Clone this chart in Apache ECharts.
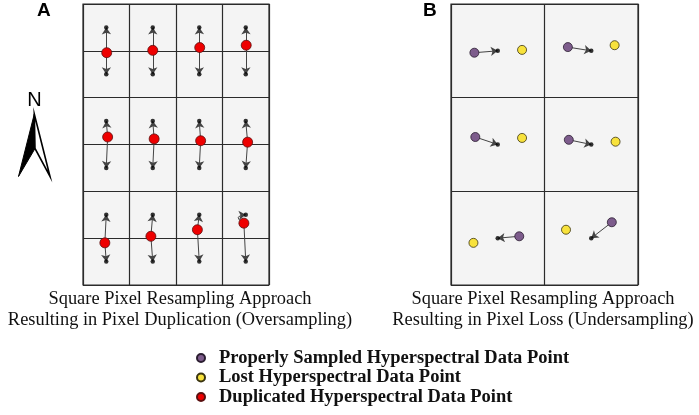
<!DOCTYPE html>
<html>
<head>
<meta charset="utf-8">
<script src="https://cdn.jsdelivr.net/npm/echarts@6/dist/echarts.min.js"></script>
<style>
  html, body { margin: 0; padding: 0; background: #fff; }
  #chart { width: 699px; height: 415px; }
</style>
</head>
<body>
<div id="chart"></div>
<script>
// panel A: 4 x 6 pixel grid (cell units), panel B: 2 x 3 grid
const topDotsA = [[0.5,5.5],[1.5,5.5],[2.5,5.5],[3.5,5.5],[0.5,3.5],[1.5,3.5],[2.5,3.5],[3.5,3.5],[0.5,1.5],[1.5,1.5],[2.5,1.5],[3.5,1.5]]
const bottomDotsA = [[0.5,4.5],[1.5,4.5],[2.5,4.5],[3.5,4.5],[0.5,2.5],[1.5,2.5],[2.5,2.5],[3.5,2.5],[0.5,0.5],[1.5,0.5],[2.5,0.5],[3.5,0.5]]
const duplicatedA = [[0.51,4.96],[1.5,5.01],[2.51,5.07],[3.51,5.12],[0.53,3.16],[1.53,3.12],[2.53,3.08],[3.54,3.05],[0.47,0.9],[1.46,1.04],[2.46,1.18],[3.46,1.32]]

const dotsB = [[0.5,2.5],[1.5,2.5],[0.5,1.5],[1.5,1.5],[0.5,0.5],[1.5,0.5]]
const sampledB = [[0.25,2.48],[1.25,2.54],[0.26,1.58],[1.26,1.55],[0.73,0.52],[1.72,0.67]]
const lostB = [[0.76,2.51],[1.75,2.56],[0.76,1.57],[1.76,1.53],[0.24,0.45],[1.23,0.59]]

const names = ['Properly Sampled Hyperspectral Data Point', 'Lost Hyperspectral Data Point', 'Duplicated Hyperspectral Data Point']
const legendTops = [348.5, 368, 387.5]

const arrowsA = []
duplicatedA.forEach(function (p, i) {
  // last cell: the upward arrow loops round to its dot
  const curl = (i === 11) ? { lineStyle: { curveness: 1.6 } } : {}
  arrowsA.push(Object.assign({ coords: [p, topDotsA[i]] }, curl))
  arrowsA.push({ coords: [p, bottomDotsA[i]] })
})
const arrowsB = sampledB.map(function (p, i) {
  return { coords: [p, dotsB[i]] }
})

const axisCommon = {
  type: 'value',
  interval: 1,
  axisLine: { show: false },
  axisTick: { show: false },
  axisLabel: { show: false },
  splitLine: { show: true, lineStyle: { color: '#2b2b2b', width: 1.2 } }
}

const legends = names.map(function (n, i) {
  return {
    orient: 'vertical',
    left: 196,
    top: legendTops[i],
    padding: 0,
    itemWidth: 26,
    itemHeight: 8,
    icon: 'circle',
    data: [n],
    selectedMode: false,
    textStyle: { fontFamily: 'Liberation Serif', fontWeight: 'bold', fontSize: 18.5, color: '#111' }
  }
})

const chart = echarts.init(document.getElementById('chart'))
chart.setOption({
  backgroundColor: '#fff',
  animation: false,
  grid: [
    { left: 83, top: 4, width: 186, height: 281, show: true, backgroundColor: '#f4f4f4', borderColor: '#2b2b2b', borderWidth: 1.2 },
    { left: 451, top: 4, width: 187, height: 281, show: true, backgroundColor: '#f4f4f4', borderColor: '#2b2b2b', borderWidth: 1.2 }
  ],
  xAxis: [
    Object.assign({ gridIndex: 0, min: 0, max: 4 }, axisCommon),
    Object.assign({ gridIndex: 1, min: 0, max: 2 }, axisCommon)
  ],
  yAxis: [
    Object.assign({ gridIndex: 0, min: 0, max: 6 }, axisCommon),
    Object.assign({ gridIndex: 1, min: 0, max: 3 }, axisCommon)
  ],
  legend: legends,
  series: [
    {
      type: 'lines', coordinateSystem: 'cartesian2d', xAxisIndex: 0, yAxisIndex: 0,
      symbol: ['none', 'arrow'], symbolSize: 7, silent: true,
      lineStyle: { color: '#444', width: 1, opacity: 1 },
      data: arrowsA, z: 2
    },
    {
      type: 'lines', coordinateSystem: 'cartesian2d', xAxisIndex: 1, yAxisIndex: 1,
      symbol: ['none', 'arrow'], symbolSize: 7, silent: true,
      lineStyle: { color: '#444', width: 1, opacity: 1 },
      data: arrowsB, z: 2
    },
    {
      type: 'scatter', xAxisIndex: 0, yAxisIndex: 0, symbolSize: 4.5,
      itemStyle: { color: '#000' }, data: topDotsA.concat(bottomDotsA), z: 3
    },
    {
      name: names[2], type: 'scatter', xAxisIndex: 0, yAxisIndex: 0, symbolSize: 10,
      itemStyle: { color: '#ee0000', borderColor: '#5a1010', borderWidth: 0.8, opacity: 1 },
      data: duplicatedA, z: 4
    },
    {
      type: 'scatter', xAxisIndex: 1, yAxisIndex: 1, symbolSize: 4.5,
      itemStyle: { color: '#000' }, data: dotsB, z: 3
    },
    {
      name: names[0], type: 'scatter', xAxisIndex: 1, yAxisIndex: 1, symbolSize: 9,
      itemStyle: { color: '#7d5c8c', borderColor: '#2a1d30', borderWidth: 0.8, opacity: 1 },
      data: sampledB, z: 4
    },
    {
      name: names[1], type: 'scatter', xAxisIndex: 1, yAxisIndex: 1, symbolSize: 9,
      itemStyle: { color: '#f8e23c', borderColor: '#3a3410', borderWidth: 0.8, opacity: 1 },
      data: lostB, z: 4
    }
  ],
  graphic: [
    { type: 'text', left: 37, top: 1, style: { text: 'A', font: 'bold 19px "Liberation Sans"', fill: '#000' } },
    { type: 'text', left: 423, top: 1, style: { text: 'B', font: 'bold 19px "Liberation Sans"', fill: '#000' } },
    { type: 'text', x: 180, y: 288, style: { text: 'Square Pixel Resampling Approach\nResulting in Pixel Duplication (Oversampling)', font: '18.4px "Liberation Serif"', fill: '#111', align: 'center', verticalAlign: 'top', lineHeight: 21.5 } },
    { type: 'text', x: 543, y: 288, style: { text: 'Square Pixel Resampling Approach\nResulting in Pixel Loss (Undersampling)', font: '18.4px "Liberation Serif"', fill: '#111', align: 'center', verticalAlign: 'top', lineHeight: 21.5 } },
    { type: 'text', x: 34.5, y: 100, style: { text: 'N', font: '20px "Liberation Sans"', fill: '#000', align: 'center', verticalAlign: 'middle' } },
    // north arrow
    { type: 'polygon', shape: { points: [[34.3, 114], [18.5, 176.5], [35, 148.5]] }, style: { fill: '#000', stroke: '#000', lineWidth: 1, lineJoin: 'miter' } },
    { type: 'polygon', shape: { points: [[34.3, 114], [35, 148.5], [50, 176.5]] }, style: { fill: '#fff', stroke: '#000', lineWidth: 1.6, lineJoin: 'miter' } }
  ]
})
</script>
</body>
</html>
